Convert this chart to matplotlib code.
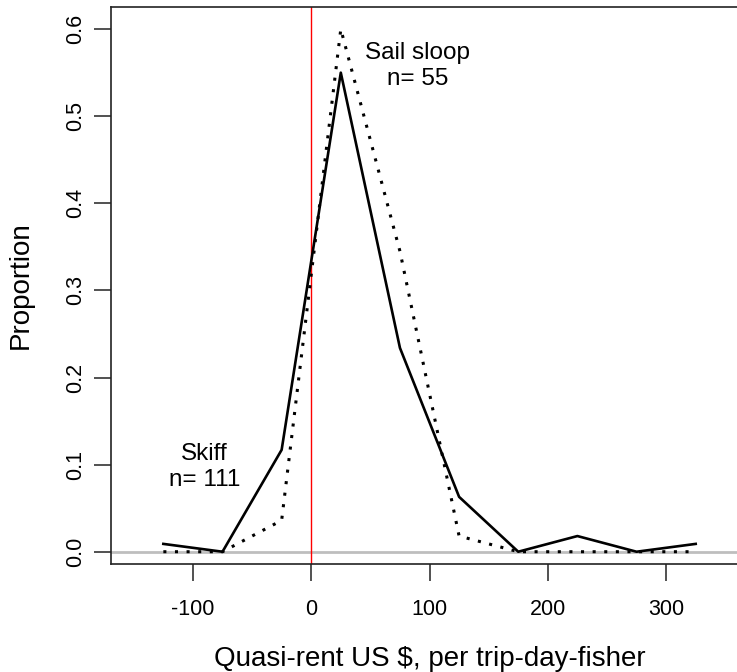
import numpy as np
import matplotlib
matplotlib.use("Agg")
import matplotlib.pyplot as plt

plt.rcParams['font.family'] = ['Liberation Sans', 'DejaVu Sans']

# bin midpoints (US $ per trip-day-fisher)
mids = [-125, -75, -25, 25, 75, 125, 175, 225, 275, 325]
skiff = [0.009, 0.0, 0.117, 0.550, 0.234, 0.063, 0.0, 0.018, 0.0, 0.009]
sloop = [0.0, 0.0, 0.036, 0.600, 0.345, 0.018, 0.0, 0.0, 0.0, 0.0]
xticks = [-100, 0, 100, 200, 300]
yticks = [0.0, 0.1, 0.2, 0.3, 0.4, 0.5, 0.6]

fig = plt.figure(figsize=(7.37, 6.72), dpi=100)
ax = fig.add_axes([0.1502, 0.1607, 0.866, 0.8289])

ax.axhline(0, color='#bebebe', lw=2.0, zorder=1)
ax.axvline(0, color='red', lw=1.0, zorder=1)
ax.plot(mids, skiff, color='black', lw=1.9, zorder=3)
ax.plot(mids, sloop, color='black', lw=2.2, linestyle=(0, (1, 2.8)),
        dash_capstyle='butt', zorder=3)

ax.text(90, 0.558, "Sail sloop\nn= 55", ha='center', va='center',
        fontsize=17.5, linespacing=1.25)
ax.text(-90, 0.097, "Skiff\nn= 111", ha='center', va='center',
        fontsize=17.5, linespacing=1.25)

ax.set_xlim(-169.5, 370)
ax.set_ylim(-0.0141, 0.6254)
ax.set_xticks(xticks)
ax.set_xticklabels([str(v) for v in xticks])
ax.set_yticks(yticks)
ax.set_yticklabels(["%.1f" % v for v in yticks], rotation=90, va='center')
ax.tick_params(axis='both', length=12, width=1.2, color='#333333',
               labelsize=15.5)
ax.tick_params(axis='x', pad=13)
ax.tick_params(axis='y', pad=6)
for s in ax.spines.values():
    s.set_linewidth(1.2)
    s.set_color('#222222')

ax.set_xlabel("Quasi-rent US $, per trip-day-fisher", fontsize=20, labelpad=19)
ax.set_ylabel("Proportion", fontsize=20, labelpad=22)

fig.savefig("out.png", dpi=100)
